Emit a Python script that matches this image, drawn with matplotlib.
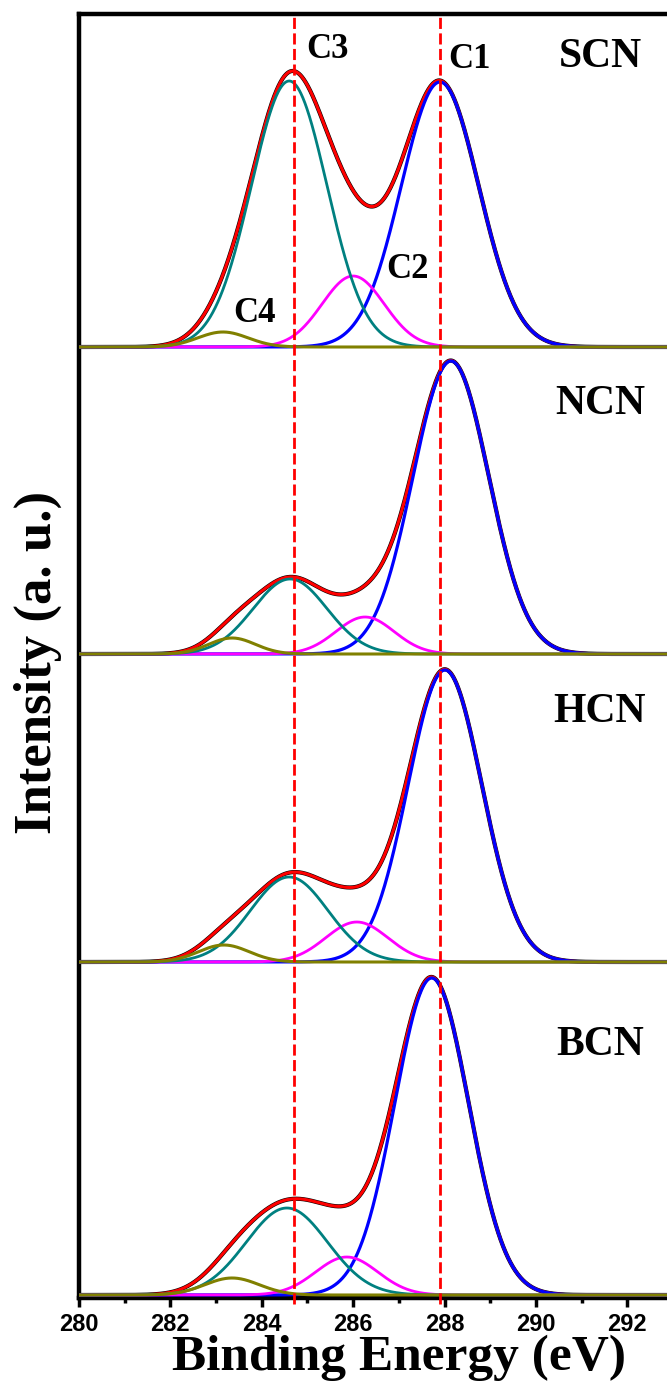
import numpy as np
import matplotlib
matplotlib.use("Agg")
import matplotlib.pyplot as plt

# peak-fit parameters (binding energy in eV, heights in arbitrary units)
samples = ["SCN", "NCN", "HCN", "BCN"]
c1_center = [287.90, 288.14, 288.01, 287.72]
c1_height = [265, 293, 292, 317]
c1_fwhm = [2.0, 1.95, 1.9, 1.9]
c2_center = [286.00, 286.26, 286.08, 285.86]
c2_height = [71, 37, 40, 38]
c2_fwhm = [1.6, 1.5, 1.6, 1.6]
c3_center = [284.60, 284.62, 284.60, 284.55]
c3_height = [266, 75, 85, 87]
c3_fwhm = [1.95, 1.9, 2.0, 2.1]
c4_center = [283.15, 283.35, 283.17, 283.35]
c4_height = [15, 16, 17, 17]
c4_fwhm = [1.3, 1.2, 1.3, 1.4]

ref_lines = [284.7, 287.9]
xticks = [280, 282, 284, 286, 288, 290, 292]

# vertical stacking of the spectra
offsets = [951, 644, 336, 3]

serif = "Liberation Serif"
sans = "Liberation Sans"


def gauss(x, c, h, w):
    s = w / 2.3548
    return h * np.exp(-0.5 * ((x - c) / s) ** 2)


fig = plt.figure(figsize=(6.67, 13.84), dpi=100)
ax = fig.add_axes([79 / 667, 86 / 1384, 594 / 667, 1284 / 1384])

x = np.linspace(280, 293, 1200)

for i, name in enumerate(samples):
    off = offsets[i]
    p1 = gauss(x, c1_center[i], c1_height[i], c1_fwhm[i])
    p2 = gauss(x, c2_center[i], c2_height[i], c2_fwhm[i])
    p3 = gauss(x, c3_center[i], c3_height[i], c3_fwhm[i])
    p4 = gauss(x, c4_center[i], c4_height[i], c4_fwhm[i])
    total = p1 + p2 + p3 + p4

    ax.plot(x, total + off, color="black", lw=3.0, zorder=2)
    ax.plot(x, total + off, color="#ff0000", lw=2.2, zorder=3)
    ax.plot(x, p1 + off, color="#0000ff", lw=2.3, zorder=4)
    ax.plot(x, p2 + off, color="#ff00ff", lw=2.0, zorder=4)
    ax.plot(x, p3 + off, color="#008080", lw=2.0, zorder=4)
    ax.plot(x, p4 + off, color="#808000", lw=2.2, zorder=5)

    ax.text(291.4, off + (290 if i == 0 else 250), name, fontsize=30,
            fontweight="bold", family=serif, ha="center", va="center")

for xv in ref_lines:
    ax.plot([xv, xv], [-6, 1284], color="#ff0000", lw=2.0,
            dashes=(4, 1.6), clip_on=False, zorder=6)

# component labels on the top spectrum
ax.text(285.44, 1249, "C3", fontsize=25, fontweight="bold", family=serif,
        ha="center", va="center")
ax.text(288.55, 1238, "C1", fontsize=25, fontweight="bold", family=serif,
        ha="center", va="center")
ax.text(287.19, 1028, "C2", fontsize=25, fontweight="bold", family=serif,
        ha="center", va="center")
ax.text(283.83, 985, "C4", fontsize=25, fontweight="bold", family=serif,
        ha="center", va="center")

ax.set_xlim(280, 293)
ax.set_ylim(0, 1284)
ax.set_xticks(xticks)
ax.set_xticks(np.arange(281, 293, 2), minor=True)
ax.set_yticks([])
ax.tick_params(axis="x", which="major", direction="out", length=6.5, width=2.5,
               labelsize=17, pad=4)
ax.tick_params(axis="x", which="minor", direction="out", length=3.5, width=2.5)
for lab in ax.get_xticklabels():
    lab.set_fontfamily(sans)
    lab.set_fontweight("bold")

for sp in ax.spines.values():
    sp.set_linewidth(3.2)
ax.spines["right"].set_visible(False)

fig.text(399 / 667, 1 - 1370 / 1384, "Binding Energy (eV)", fontsize=37,
         fontweight="bold", family=serif, ha="center", va="baseline")
fig.text(38 / 667, 1 - 662 / 1384, "Intensity (a. u.)", fontsize=38,
         fontweight="bold", family=serif, ha="center", va="center",
         rotation=90)

fig.savefig("out.png", dpi=100)
